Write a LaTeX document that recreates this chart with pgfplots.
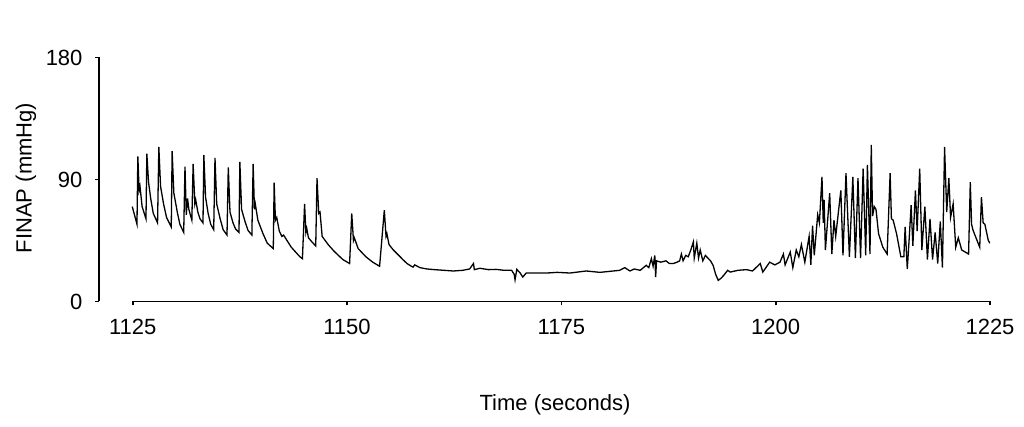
\documentclass[border=0pt]{standalone}
\usepackage{fontspec}
\setmainfont{Liberation Sans}
\usepackage{pgfplots}
\pgfplotsset{compat=1.18}

\begin{document}
\begin{tikzpicture}[font=\fontsize{22}{26}\selectfont]
\begin{axis}[
    scale only axis, width=891pt, height=244pt,
    at={(99pt,125.5pt)}, anchor=south west,
    xmin=1121.07, xmax=1225, ymin=0, ymax=180,
    axis lines*=left,
    x axis line style={draw=none},
    y axis line style={line width=1.7pt},
    xtick={1125,1150,1175,1200,1225},
    ytick={0,90,180},
    tick align=outside, major tick length=4pt,
    tick style={line width=1.7pt, black},
    /pgf/number format/assume math mode=true,
    /pgf/number format/set thousands separator={},
    yticklabel style={xshift=-9pt},
    xticklabel style={yshift=-10pt},
]
\draw[line width=1.7pt] (axis cs:1125,0) -- (axis cs:1225,0);
\addplot[black, line width=1.3pt] coordinates {
(1124.95,70) (1125.5,57) (1125.6,107) (1125.75,82) (1125.85,85) (1126.1,70) (1126.55,61)
(1126.65,109) (1126.85,88) (1127.1,76) (1127.4,65) (1127.9,58)
(1128.05,114) (1128.25,85) (1128.6,72) (1128.95,62) (1129.5,55)
(1129.6,111) (1129.8,80) (1130.2,66) (1130.5,57) (1130.95,51)
(1131.1,99.5) (1131.25,64) (1131.4,76) (1131.55,68) (1131.9,60)
(1132.05,101.5) (1132.25,72) (1132.35,75) (1132.6,66) (1132.85,61) (1133.2,58)
(1133.3,108) (1133.5,77) (1133.8,65) (1134.1,57) (1134.45,53)
(1134.6,106) (1134.8,72) (1135.2,61) (1135.55,53) (1136.0,49)
(1136.15,99) (1136.35,66) (1136.7,58) (1137.0,53.5) (1137.4,51)
(1137.5,103) (1137.7,68) (1138.1,59) (1138.45,52.5) (1138.9,49)
(1139.05,101.5) (1139.2,68) (1139.3,72) (1139.6,60) (1140.2,50) (1140.7,43) (1141.4,39)
(1141.5,87.6) (1141.65,60) (1141.8,62) (1142.1,52) (1142.4,48) (1142.6,49) (1143.5,40) (1144.5,33) (1144.8,31.6)
(1145.05,72) (1145.2,51) (1145.3,54) (1145.5,47) (1145.9,44) (1146.35,41)
(1146.5,91) (1146.7,65) (1146.85,66) (1147.1,48) (1147.8,42) (1148.5,37) (1149.5,31) (1150.3,28)
(1150.55,65) (1150.75,45) (1150.85,47) (1151.3,39) (1152.2,33) (1153.0,29) (1153.8,26)
(1154.35,67.4) (1154.55,48) (1154.65,50) (1154.9,42) (1155.4,38) (1156.2,33) (1156.5,31) (1157.0,28) (1157.5,26) (1157.7,25.4) (1157.9,27)
(1158.5,25) (1159.3,24) (1160.2,23.5) (1161.3,23) (1162.4,22.5) (1163.5,23) (1164.3,24) (1164.75,28) (1164.85,23.5) (1165.5,24.5)
(1166.5,23.5) (1167.4,23.7) (1168.3,23) (1169.2,23) (1169.5,20) (1169.6,16) (1169.8,23.7) (1170.2,21) (1170.5,18) (1170.9,21)
(1172,21) (1173.3,21) (1174.5,21.5) (1176,21) (1177.9,22.5) (1179.5,21.5) (1181.05,22.5) (1181.8,23) (1182.4,25) (1183.0,22.5)
(1183.5,24) (1184.2,23) (1184.9,26.7) (1185.2,25) (1185.5,31.6) (1185.7,26) (1185.9,34) (1186.0,18) (1186.1,30) (1186.6,29)
(1187.2,30) (1187.6,28) (1188.05,28) (1188.5,29) (1188.8,30) (1189.0,35) (1189.2,30) (1189.5,34) (1189.8,33) (1190.1,38)
(1190.4,44) (1190.5,32) (1190.8,43) (1191.0,32) (1191.2,38) (1191.5,30) (1191.8,34) (1192.1,32) (1192.4,30) (1192.7,26.7)
(1193.0,20) (1193.3,15.6) (1193.6,17) (1193.9,19) (1194.4,23) (1194.7,21.7) (1195.6,23) (1196.6,23.5) (1197.3,22.5) (1198.2,28)
(1198.5,21.7) (1199.3,29) (1199.9,27) (1200.5,29) (1200.9,35) (1201.1,27) (1201.7,36.5) (1202.0,25) (1202.4,38) (1202.7,33)
(1203.0,42) (1203.4,29) (1203.9,48) (1204.1,27) (1204.3,56) (1204.5,34) (1204.9,64) (1205.1,58) (1205.4,92) (1205.55,58)
(1205.65,75) (1205.8,38) (1206.3,80) (1206.55,35) (1206.8,60) (1207.0,48) (1207.6,82) (1207.85,34) (1208.2,94.6) (1208.6,33)
(1209.0,92) (1209.3,32) (1209.6,91) (1209.9,32) (1210.2,98) (1210.5,34) (1210.7,100.7) (1211.0,35) (1211.15,115.6) (1211.3,63)
(1211.5,70) (1211.7,68) (1212.0,50) (1212.5,40) (1213.0,35) (1213.35,94.6) (1213.5,61) (1213.7,60) (1214.1,50) (1214.6,33)
(1214.95,33) (1215.1,55) (1215.35,24) (1215.55,44) (1215.8,71) (1216.0,41) (1216.3,82) (1216.5,52) (1216.8,98) (1217.05,38)
(1217.4,70) (1217.7,31) (1218.0,61) (1218.3,31) (1218.6,51) (1218.9,28) (1219.2,59) (1219.45,25) (1219.7,114) (1219.95,66)
(1220.2,91) (1220.4,62) (1220.7,72) (1221.0,40) (1221.3,47) (1221.7,38) (1222.5,35) (1222.7,88) (1222.85,57) (1223.0,53)
(1223.3,48) (1223.8,40) (1224.0,77) (1224.2,58) (1224.4,57) (1224.8,45) (1225,43)
};
\end{axis}
\node[rotate=90] at (26pt,249pt) {FINAP (mmHg)};
\node at (555pt,22pt) {Time (seconds)};
\path (0,0) rectangle (1024pt,427pt);
\end{tikzpicture}
\end{document}
